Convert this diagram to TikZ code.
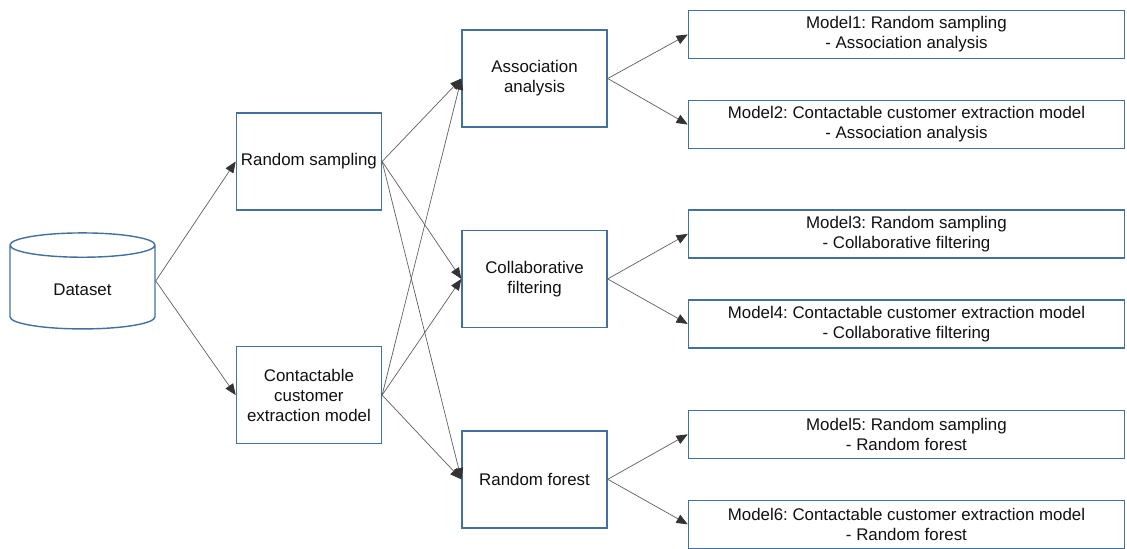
\documentclass[tikz,border=0pt]{standalone}
\usepackage{tikz}
\usetikzlibrary{shapes.geometric,arrows.meta,positioning}
\usepackage{fontspec}
\setmainfont{Liberation Sans}
\usepackage{xcolor}
\definecolor{mdBorder}{HTML}{41719C}
\definecolor{mdLine}{HTML}{5F5F5F}
\definecolor{mdTip}{HTML}{333333}
\definecolor{mdInk}{HTML}{111111}
\frenchspacing
\tikzset{
  stage/.style={draw=mdBorder, line width=1pt, fill=white, minimum width=3.625cm, minimum height=2.425cm, inner sep=2pt, font=\fontsize{12}{14.2}\selectfont, text=mdInk, align=center},
  modl/.style={stage, minimum width=10.9cm, minimum height=1.2cm, inner sep=1pt},
  dbase/.style={cylinder, shape border rotate=90, aspect=0.36, draw=mdBorder, line width=1pt, minimum width=3.625cm, minimum height=2.4cm, font=\fontsize{12}{14.2}\selectfont, text=mdInk},
  arr/.style={-{Triangle[length=8pt, width=6.5pt, color=mdTip]}, line width=0.5pt, draw=mdLine},
}
\begin{document}
\begin{tikzpicture}[node distance=2.55cm]
        \useasboundingbox (-2.0625,-6.5875) rectangle (26.1125,7.1125);
        \node[dbase] (data) at (0,-0.125) {Dataset};
        \coordinate (dout) at (data.shape center -| data.east);
        \node[stage, right=2.0cm of data, yshift=3.2cm] (rs) {Random sampling};
        \node[stage, right=2.0cm of data, yshift=-2.64cm] (cc) {Contactable\\customer\\extraction model};
        \node[stage, right=1.98cm of rs, yshift=2.075cm] (aa) {Association\\analysis};
        \node[stage, below=of aa] (cf) {Collaborative\\filtering};
        \node[stage, below=of cf] (rf) {Random forest};
        \node[modl, right=2.0cm of aa, yshift=1.1cm] (m1) {Model1: Random sampling\\- Association analysis};
        \node[modl, right=2.0cm of aa, yshift=-1.15cm] (m2) {Model2: Contactable customer extraction model\\- Association analysis};
        \node[modl, right=2.0cm of cf, yshift=1.125cm] (m3) {Model3: Random sampling\\- Collaborative filtering};
        \node[modl, right=2.0cm of cf, yshift=-1.125cm] (m4) {Model4: Contactable customer extraction model\\- Collaborative filtering};
        \node[modl, right=2.0cm of rf, yshift=1.125cm] (m5) {Model5: Random sampling\\- Random forest};
        \node[modl, right=2.0cm of rf, yshift=-1.125cm] (m6) {Model6: Contactable customer extraction model\\- Random forest};
        \draw[arr] (dout) -- (rs.west); \draw[arr] (dout) -- (cc.west);
        \foreach \src in {rs,cc}
          \foreach \dst in {aa,cf,rf}
            \draw[arr] (\src.east) -- (\dst.west);
        \draw[arr] (aa.east) -- (m1.west); \draw[arr] (aa.east) -- (m2.west);
        \draw[arr] (cf.east) -- (m3.west); \draw[arr] (cf.east) -- (m4.west);
        \draw[arr] (rf.east) -- (m5.west); \draw[arr] (rf.east) -- (m6.west);
    \end{tikzpicture}
\end{document}
